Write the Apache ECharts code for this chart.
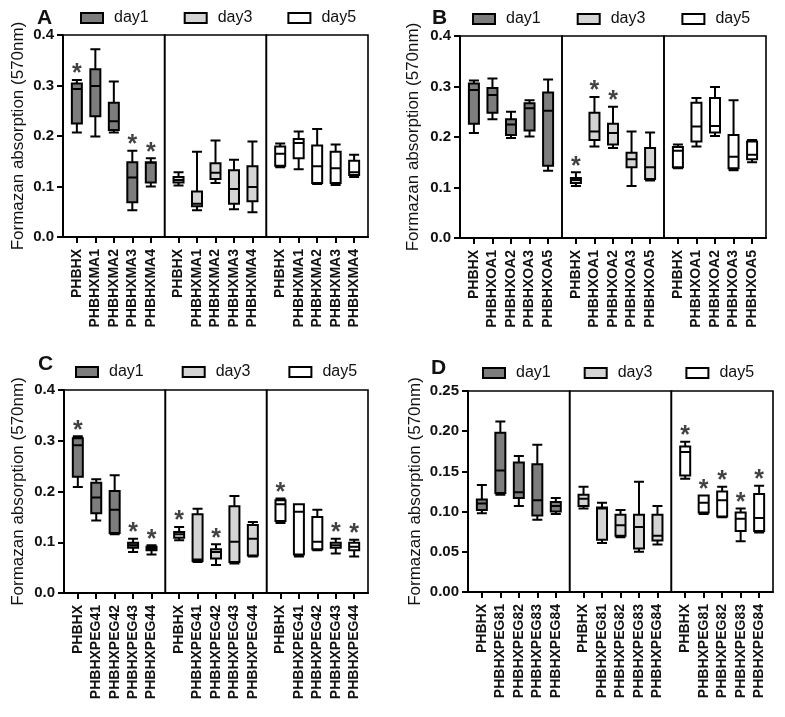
<!DOCTYPE html>
<html>
<head>
<meta charset="utf-8">
<script src="https://cdn.jsdelivr.net/npm/echarts@6/dist/echarts.min.js"></script>
<style>
  html, body { margin: 0; padding: 0; background: #fff; }
  #chart { width: 785px; height: 717px; }
</style>
</head>
<body>
<div id="chart"></div>
<script>
// each box: [min, Q1, median, Q3, max]
const days = ['day1', 'day3', 'day5'];

const catsA = ['PHBHX', 'PHBHXMA1', 'PHBHXMA2', 'PHBHXMA3', 'PHBHXMA4'];
const aDay1 = [[0.207, 0.225, 0.293, 0.304, 0.311], [0.199, 0.239, 0.299, 0.332, 0.372], [0.207, 0.212, 0.229, 0.266, 0.308], [0.053, 0.069, 0.118, 0.148, 0.171], [0.100, 0.108, 0.147, 0.148, 0.156]];
const aDay3 = [[0.102, 0.108, 0.113, 0.119, 0.128], [0.053, 0.061, 0.066, 0.090, 0.169], [0.107, 0.115, 0.127, 0.146, 0.191], [0.055, 0.066, 0.095, 0.132, 0.153], [0.049, 0.071, 0.099, 0.140, 0.189]];
const aDay5 = [[0.138, 0.141, 0.165, 0.179, 0.185], [0.134, 0.156, 0.186, 0.194, 0.209], [0.105, 0.107, 0.140, 0.181, 0.214], [0.103, 0.107, 0.136, 0.169, 0.183], [0.119, 0.123, 0.128, 0.151, 0.163]];
const starsA = [[0, 3, 4], [], []];

const catsB = ['PHBHX', 'PHBHXOA1', 'PHBHXOA2', 'PHBHXOA3', 'PHBHXOA5'];
const bDay1 = [[0.208, 0.226, 0.293, 0.306, 0.312], [0.235, 0.248, 0.283, 0.297, 0.316], [0.198, 0.204, 0.225, 0.235, 0.250], [0.201, 0.213, 0.257, 0.267, 0.273], [0.133, 0.143, 0.252, 0.288, 0.314]];
const bDay3 = [[0.103, 0.109, 0.115, 0.119, 0.130], [0.181, 0.194, 0.211, 0.248, 0.279], [0.178, 0.185, 0.208, 0.226, 0.260], [0.103, 0.140, 0.156, 0.169, 0.211], [0.114, 0.117, 0.140, 0.178, 0.209]];
const bDay5 = [[0.138, 0.140, 0.173, 0.180, 0.185], [0.181, 0.191, 0.221, 0.268, 0.277], [0.202, 0.209, 0.222, 0.277, 0.299], [0.134, 0.138, 0.161, 0.204, 0.273], [0.150, 0.156, 0.165, 0.191, 0.194]];
const starsB = [[], [0, 1, 2], []];

const catsC = ['PHBHX', 'PHBHXPEG41', 'PHBHXPEG42', 'PHBHXPEG43', 'PHBHXPEG44'];
const cDay1 = [[0.209, 0.229, 0.291, 0.305, 0.309], [0.143, 0.157, 0.188, 0.217, 0.224], [0.116, 0.118, 0.164, 0.201, 0.232], [0.081, 0.089, 0.094, 0.099, 0.107], [0.076, 0.084, 0.088, 0.091, 0.094]];
const cDay3 = [[0.104, 0.109, 0.116, 0.120, 0.130], [0.061, 0.063, 0.066, 0.155, 0.166], [0.055, 0.068, 0.081, 0.086, 0.096], [0.058, 0.061, 0.101, 0.171, 0.191], [0.072, 0.074, 0.107, 0.134, 0.140]];
const cDay5 = [[0.138, 0.142, 0.175, 0.183, 0.186], [0.072, 0.076, 0.160, 0.175, 0.175], [0.084, 0.086, 0.101, 0.150, 0.164], [0.078, 0.089, 0.094, 0.099, 0.107], [0.072, 0.084, 0.091, 0.099, 0.105]];
const starsC = [[0, 3, 4], [0, 2], [0, 3, 4]];

const catsD = ['PHBHX', 'PHBHXPEG81', 'PHBHXPEG82', 'PHBHXPEG83', 'PHBHXPEG84'];
const dDay1 = [[0.098, 0.102, 0.110, 0.115, 0.133], [0.121, 0.123, 0.151, 0.198, 0.212], [0.107, 0.117, 0.124, 0.161, 0.169], [0.090, 0.095, 0.114, 0.159, 0.183], [0.097, 0.100, 0.107, 0.112, 0.117]];
const dDay3 = [[0.104, 0.107, 0.116, 0.121, 0.131], [0.061, 0.065, 0.104, 0.105, 0.111], [0.068, 0.070, 0.083, 0.096, 0.102], [0.050, 0.054, 0.081, 0.096, 0.137], [0.059, 0.064, 0.070, 0.096, 0.107]];
const dDay5 = [[0.141, 0.145, 0.174, 0.181, 0.187], [0.097, 0.099, 0.111, 0.120, 0.120], [0.093, 0.094, 0.114, 0.125, 0.131], [0.063, 0.076, 0.091, 0.099, 0.104], [0.074, 0.076, 0.092, 0.122, 0.132]];
const starsD = [[], [], [0, 1, 2, 3, 4]];

const yTitle = 'Formazan absorption (570nm)';

// fills for day1 / day3 / day5
const fills = ['#7d7d7d', '#d4d4d4', '#ffffff'];
const ink = '#111';
const font = 'Liberation Sans';

// panel layout (px)
const panels = [
  {tag: 'A', cats: catsA, data: [aDay1, aDay3, aDay5], stars: starsA, left: 63, top: 35, w: 305, h: 202, yMax: 0.4, yStep: 0.1, dec: 1, nameGap: 36, tagX: 37, tagY: 8, legX: 80, legY: 10, legGap: 35},
  {tag: 'B', cats: catsB, data: [bDay1, bDay3, bDay5], stars: starsB, left: 460, top: 36, w: 306, h: 202, yMax: 0.4, yStep: 0.1, dec: 1, nameGap: 38, tagX: 432, tagY: 8, legX: 472, legY: 11, legGap: 36},
  {tag: 'C', cats: catsC, data: [cDay1, cDay3, cDay5], stars: starsC, left: 64, top: 390, w: 304, h: 203, yMax: 0.4, yStep: 0.1, dec: 1, nameGap: 37, tagX: 38, tagY: 354, legX: 75, legY: 364, legGap: 38},
  {tag: 'D', cats: catsD, data: [dDay1, dDay3, dDay5], stars: starsD, left: 468, top: 391, w: 305, h: 201, yMax: 0.25, yStep: 0.05, dec: 2, nameGap: 44, tagX: 431, tagY: 358, legX: 482, legY: 365, legGap: 33}
];

const legendItems = days.map(function (n, d) {
  return {name: n, itemStyle: {color: fills[d], borderColor: '#000', borderWidth: 2}};
});

const grid = [], xAxis = [], yAxis = [], series = [], title = [], legend = [];

panels.forEach(function (p) {
  title.push({
    text: p.tag, left: p.tagX, top: p.tagY, padding: 0,
    textStyle: {fontFamily: font, fontSize: 21, fontWeight: 'bold', color: ink}
  });
  legend.push({
    data: legendItems, left: p.legX, top: p.legY, padding: 0, icon: 'rect',
    itemWidth: 22, itemHeight: 10, itemGap: p.legGap, selectedMode: false,
    textStyle: {fontFamily: font, fontSize: 16, color: ink, padding: [0, 0, 0, 6]}
  });
  const cw = p.w / 3;
  for (let d = 0; d < 3; d++) {
    const gi = grid.length;
    grid.push({
      left: p.left + d * cw, top: p.top, width: cw, height: p.h,
      show: true, borderColor: '#000', borderWidth: 1.6, containLabel: false
    });
    const cats = p.cats;
    xAxis.push({
      type: 'value', gridIndex: gi, min: -0.75, max: 4.75,
      splitLine: {show: false},
      axisLine: {show: true, onZero: false, lineStyle: {color: '#000', width: 2}},
      axisTick: {show: true, customValues: [0, 1, 2, 3, 4], length: 6, lineStyle: {color: '#000', width: 2}},
      axisLabel: {
        customValues: [0, 1, 2, 3, 4], rotate: 90, margin: 12,
        fontFamily: font, fontSize: 14, fontWeight: 'bold', color: ink,
        formatter: function (v) { return cats[Math.round(v)]; }
      }
    });
    yAxis.push({
      type: 'value', gridIndex: gi, min: 0, max: p.yMax, interval: p.yStep,
      show: d === 0,
      name: d === 0 ? yTitle : '', nameLocation: 'middle', nameGap: p.nameGap,
      nameTextStyle: {fontFamily: font, fontSize: 17, color: ink},
      splitLine: {show: false},
      axisLine: {show: true, onZero: false, lineStyle: {color: '#000', width: 2}},
      axisTick: {show: true, length: 6, lineStyle: {color: '#000', width: 2}},
      axisLabel: {
        margin: 9, fontFamily: font, fontSize: 15, fontWeight: 'bold', color: ink,
        formatter: function (v) { return v.toFixed(p.dec); }
      }
    });
    series.push({
      type: 'boxplot', name: days[d], xAxisIndex: gi, yAxisIndex: gi,
      boxWidth: [10, 10],
      itemStyle: {color: fills[d], borderColor: '#000', borderWidth: 2},
      emphasis: {disabled: true},
      data: p.data[d].map(function (b, i) { return [i].concat(b); })
    });
    series.push({
      type: 'scatter', name: 'sig', xAxisIndex: gi, yAxisIndex: gi,
      symbolSize: 0, silent: true,
      label: {
        show: true, position: 'top', distance: 0, offset: [0, 7],
        formatter: '*', fontFamily: font, fontSize: 25, fontWeight: 'bold', color: ink
      },
      data: p.stars[d].map(function (i) { return [i, p.data[d][i][4]]; })
    });
  }
});

const chart = echarts.init(document.getElementById('chart'), null, {renderer: 'canvas'});
chart.setOption({
  backgroundColor: '#fff',
  animation: false,
  textStyle: {fontFamily: font},
  title: title,
  legend: legend,
  grid: grid,
  xAxis: xAxis,
  yAxis: yAxis,
  series: series
});
</script>
</body>
</html>
